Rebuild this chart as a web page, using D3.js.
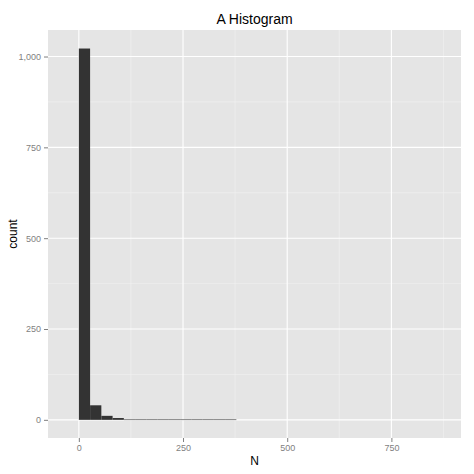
<!DOCTYPE html>
<html><head><meta charset="utf-8">
<script src="https://cdn.jsdelivr.net/npm/d3@7"></script>
<style>body{margin:0;background:#fff}text{font-family:"Liberation Sans",Arial,sans-serif}</style>
</head><body><div id="chart"></div>
<script>
// bin width and counts
const binWidth = 27;
const binCounts = [1022, 40, 11, 5, 1, 1, 1, 0, 0, 1, 1, 1, 0, 1, 0, 0, 0, 1, 0, 0, 0, 0, 0, 0, 1, 0, 0, 0, 0, 0, 1];
const xTicks = [0, 250, 500, 750];
const yTicks = [0, 250, 500, 750, 1000];

const W = 474, H = 474;
const m = {top: 30, right: 13, bottom: 36, left: 48};
const svg = d3.select('#chart').append('svg').attr('width', W).attr('height', H);

const x = d3.scaleLinear().domain([-74, 917]).range([m.left, W - m.right]);
const y = d3.scaleLinear().domain([-50, 1073]).range([H - m.bottom, m.top]);

svg.append('rect').attr('x', m.left).attr('y', m.top)
  .attr('width', W - m.left - m.right).attr('height', H - m.top - m.bottom).attr('fill', '#e5e5e5');

//minor grid
const g = svg.append('g');
[125, 375, 625, 875].forEach(v => g.append('line').attr('x1', x(v)).attr('x2', x(v))
  .attr('y1', m.top).attr('y2', H - m.bottom).attr('stroke', '#f2f2f2').attr('stroke-width', 0.6));
[125, 375, 625, 875].forEach(v => g.append('line').attr('y1', y(v)).attr('y2', y(v))
  .attr('x1', m.left).attr('x2', W - m.right).attr('stroke', '#f2f2f2').attr('stroke-width', 0.6));
//major grid
xTicks.forEach(v => g.append('line').attr('x1', x(v)).attr('x2', x(v))
  .attr('y1', m.top).attr('y2', H - m.bottom).attr('stroke', '#fff').attr('stroke-width', 1.1));
yTicks.forEach(v => g.append('line').attr('y1', y(v)).attr('y2', y(v))
  .attr('x1', m.left).attr('x2', W - m.right).attr('stroke', '#fff').attr('stroke-width', 1.1));

//bars
svg.selectAll('rect.bar').data(binCounts).enter().filter(d => d > 0).append('rect')
  .attr('class', 'bar')
  .attr('x', (d, i) => x(i * binWidth))
  .attr('width', x(binWidth) - x(0))
  .attr('y', d => y(d))
  .attr('height', d => Math.max(0.6, y(0) - y(d)))
  .attr('fill', '#333333');

//axes
const xa = svg.append('g').attr('transform', `translate(0,${H - m.bottom})`)
  .call(d3.axisBottom(x).tickValues(xTicks).tickSize(4).tickPadding(3));
const ya = svg.append('g').attr('transform', `translate(${m.left},0)`)
  .call(d3.axisLeft(y).tickValues(yTicks).tickSize(4).tickPadding(3));
[xa, ya].forEach(a => {
  a.select('.domain').remove();
  a.selectAll('line').attr('stroke', '#7f7f7f');
  a.selectAll('text').attr('fill', '#7f7f7f').style('font-size', '9px');
});

svg.append('text').attr('x', (m.left + W - m.right) / 2).attr('y', 24)
  .attr('text-anchor', 'middle').style('font-size', '14px').text('A Histogram');
svg.append('text').attr('x', (m.left + W - m.right) / 2).attr('y', 465)
  .attr('text-anchor', 'middle').style('font-size', '12px').text('N');
svg.append('text').attr('transform', `translate(17,${(m.top + H - m.bottom) / 2}) rotate(-90)`)
  .attr('text-anchor', 'middle').style('font-size', '12px').text('count');
</script></body></html>
